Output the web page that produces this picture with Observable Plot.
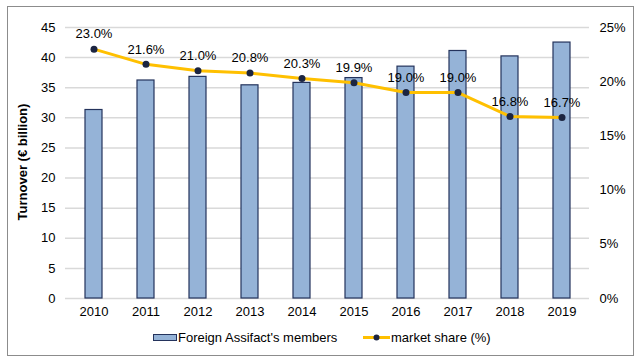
<!DOCTYPE html>
<html>
<head>
<meta charset="utf-8">
<script src="https://cdn.jsdelivr.net/npm/d3@7"></script>
<script src="https://cdn.jsdelivr.net/npm/@observablehq/plot@0.6"></script>
<style>
  body { margin: 0; background: #fff; font-family: "Liberation Sans", Arial, sans-serif; }
  #wrap { position: relative; width: 642px; height: 362px; overflow: hidden; }
  #frame { position: absolute; left: 7px; top: 6px; width: 625px; height: 348px; border: 1px solid #8c8c8c; }
  #chart { position: absolute; left: 0; top: 0; }
  #ylabel { position: absolute; left: 22px; top: 162px; transform: translate(-50%, -50%) rotate(-90deg); white-space: nowrap; font-weight: bold; font-size: 13px; color: #000; }
  #legend { position: absolute; top: 329px; left: 0; width: 642px; height: 16px; font-size: 13px; color: #000; }
  .li { position: absolute; top: 0; display: flex; align-items: center; height: 16px; }
</style>
</head>
<body>
<div id="wrap">
  <div id="frame"></div>
  <div id="chart"></div>
  <div id="ylabel">Turnover (€ billion)</div>
  <div id="legend">
    <div class="li" style="left:153px">
      <svg width="25" height="16"><rect x="0.5" y="5.5" width="23" height="6" fill="#95B3D7" stroke="#24335c" stroke-width="1"></rect></svg>
      <span>Foreign Assifact's members</span>
    </div>
    <div class="li" style="left:363px">
      <svg width="28" height="16"><line x1="0" x2="27" y1="8.5" y2="8.5" stroke="#FFC000" stroke-width="3"></line><circle cx="13.5" cy="8.5" r="3" fill="#1c2541"></circle></svg>
      <span>market share (%)</span>
    </div>
  </div>
</div>
<script>
const years = ["2010","2011","2012","2013","2014","2015","2016","2017","2018","2019"];
const turnover = [31.3, 36.2, 36.8, 35.4, 35.8, 36.6, 38.5, 41.1, 40.2, 42.5];
const share = [23.0, 21.6, 21.0, 20.8, 20.3, 19.9, 19.0, 19.0, 16.8, 16.7];
const leftTicks = [0, 5, 10, 15, 20, 25, 30, 35, 40, 45];
const rightTicks = [0, 5, 10, 15, 20, 25];
const ratio = 45 / 25;

const data = years.map((y, i) => ({year: y, turnover: turnover[i], share: share[i], shareY: share[i] * ratio}));

const chart = Plot.plot({
  width: 642,
  height: 322,
  marginLeft: 65,
  marginRight: 53,
  marginTop: 27,
  marginBottom: 24,
  style: {fontFamily: "'Liberation Sans', Arial, sans-serif", fontSize: "13px", color: "#000", background: "transparent"},
  x: {domain: years, paddingInner: 0.675, paddingOuter: 0.3375, label: null},
  y: {domain: [0, 45], label: null},
  marks: [
    Plot.gridY(leftTicks, {stroke: "#d9d9d9", strokeOpacity: 1, strokeWidth: 1.5}),
    Plot.barY(data, {x: "year", y: "turnover", fill: "#95B3D7", stroke: "#24335c", strokeWidth: 1.2}),
    Plot.line(data, {x: "year", y: "shareY", stroke: "#FFC000", strokeWidth: 3}),
    Plot.dot(data, {x: "year", y: "shareY", r: 3.5, fill: "#1c2541"}),
    Plot.text(data, {x: "year", y: "shareY", text: d => d.share.toFixed(1) + "%", dy: -15, fontSize: 13, fill: "#000"}),
    Plot.axisY(leftTicks, {anchor: "left", tickSize: 0, tickPadding: 10, label: null}),
    Plot.axisY(rightTicks.map(d => d * ratio), {anchor: "right", tickSize: 0, tickPadding: 10, label: null, tickFormat: d => Math.round(d / ratio) + "%"}),
    Plot.axisX({tickSize: 0, tickPadding: 8, label: null})
  ]
});
document.getElementById("chart").appendChild(chart);
</script>
</body>
</html>
